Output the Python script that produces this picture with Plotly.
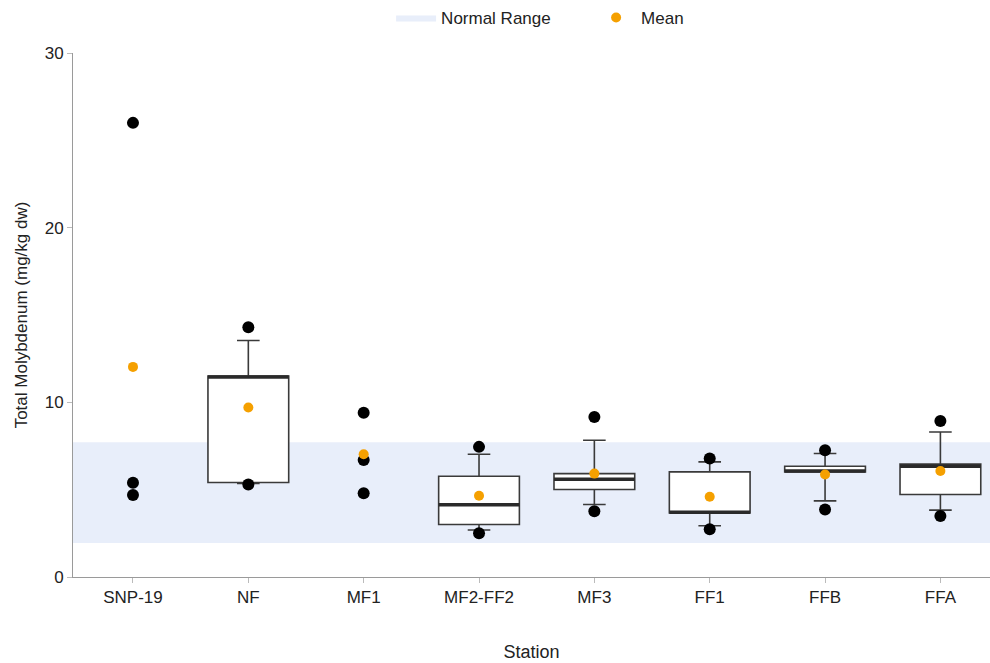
import plotly.graph_objects as go

# Stations along the x axis
stations = ["SNP-19", "NF", "MF1", "MF2-FF2", "MF3", "FF1", "FFB", "FFA"]

# Box statistics (mg/kg dw); None where no box is drawn (n = 3)
q1 = [None, 5.41, None, 3.01, 5.01, 3.67, 6.02, 4.72]
median = [None, 11.45, None, 4.13, 5.60, 3.70, 6.07, 6.34]
q3 = [None, 11.50, None, 5.77, 5.92, 6.02, 6.34, 6.46]
lower_whisker = [None, 5.35, None, 2.69, 4.15, 2.93, 4.36, 3.83]
upper_whisker = [None, 13.54, None, 7.03, 7.83, 6.59, 7.07, 8.30]

# Individual plotted observations per station
observations = [
    [26.0, 5.4, 4.7],
    [14.3, 5.3],
    [9.4, 6.7, 4.8],
    [7.45, 2.5],
    [9.16, 3.77],
    [6.78, 2.74],
    [7.26, 3.87],
    [8.93, 3.49],
]

# Station means
means = [12.03, 9.70, 7.03, 4.65, 5.92, 4.59, 5.87, 6.07]

# Normal range band
normal_low, normal_high = 1.94, 7.71

band_color = "rgb(232,238,250)"
x_range = [-0.52, 7.43]
box_width = 0.7

fig = go.Figure()

# Normal range band, drawn beneath every trace
fig.add_shape(
    type="rect", xref="paper", x0=0, x1=1, yref="y",
    y0=normal_low, y1=normal_high,
    fillcolor=band_color, line_width=0, layer="below",
)
# legend entry for the band
fig.add_trace(go.Scatter(
    x=[None], y=[None], mode="lines", fill="toself",
    fillcolor=band_color, line=dict(width=0, color=band_color),
    name="Normal Range", hoverinfo="skip",
))

# Box plots
for i, st in enumerate(stations):
    if q1[i] is None:
        continue
    fig.add_trace(go.Box(
        x=[i], q1=[q1[i]], median=[median[i]], q3=[q3[i]],
        lowerfence=[lower_whisker[i]], upperfence=[upper_whisker[i]],
        width=box_width, whiskerwidth=0.28,
        fillcolor="white", line=dict(color="#3a3a3a", width=1.6),
        boxpoints=False, showlegend=False, name=st,
    ))
    # heavier median line
    fig.add_trace(go.Scatter(
        x=[i - box_width / 2, i + box_width / 2], y=[median[i], median[i]],
        mode="lines", line=dict(color="#2a2a2a", width=3.5),
        showlegend=False, hoverinfo="skip",
    ))

# Observations
obs_x, obs_y = [], []
for i, vals in enumerate(observations):
    for v in vals:
        obs_x.append(i)
        obs_y.append(v)
fig.add_trace(go.Scatter(
    x=obs_x, y=obs_y, mode="markers",
    marker=dict(color="black", size=12),
    showlegend=False, name="Observation",
))

# Means
fig.add_trace(go.Scatter(
    x=list(range(len(stations))), y=means, mode="markers",
    marker=dict(color="#F5A000", size=10),
    name="Mean",
))

fig.update_layout(
    width=990, height=663,
    margin=dict(l=73, r=0, t=52, b=86),
    paper_bgcolor="white", plot_bgcolor="white",
    font=dict(family="Liberation Sans, Arial, sans-serif", size=17, color="#222"),
    legend=dict(orientation="h", x=0.565, xanchor="center", y=1.067, yanchor="middle",
                font=dict(size=17), itemwidth=40, traceorder="normal",
                entrywidth=145, entrywidthmode="pixels"),
    showlegend=True,
)

fig.update_xaxes(
    range=x_range, tickmode="array", tickvals=list(range(len(stations))),
    ticktext=stations, showgrid=False, zeroline=False,
    showline=True, linecolor="#9a9a9a", linewidth=1,
    ticks="outside", ticklen=5, tickcolor="#bbb", tickfont=dict(size=17),
    title=dict(text="Station", font=dict(size=18), standoff=38),
    automargin=False,
)
fig.update_yaxes(
    range=[0, 30], tickvals=[0, 10, 20, 30], showgrid=False, zeroline=False,
    showline=True, linecolor="#9a9a9a", linewidth=1,
    ticks="outside", ticklen=5, tickcolor="#bbb", tickfont=dict(size=17),
    title=dict(text="Total Molybdenum (mg/kg dw)", font=dict(size=17), standoff=12),
    automargin=False,
)

fig.write_html("out.html")
